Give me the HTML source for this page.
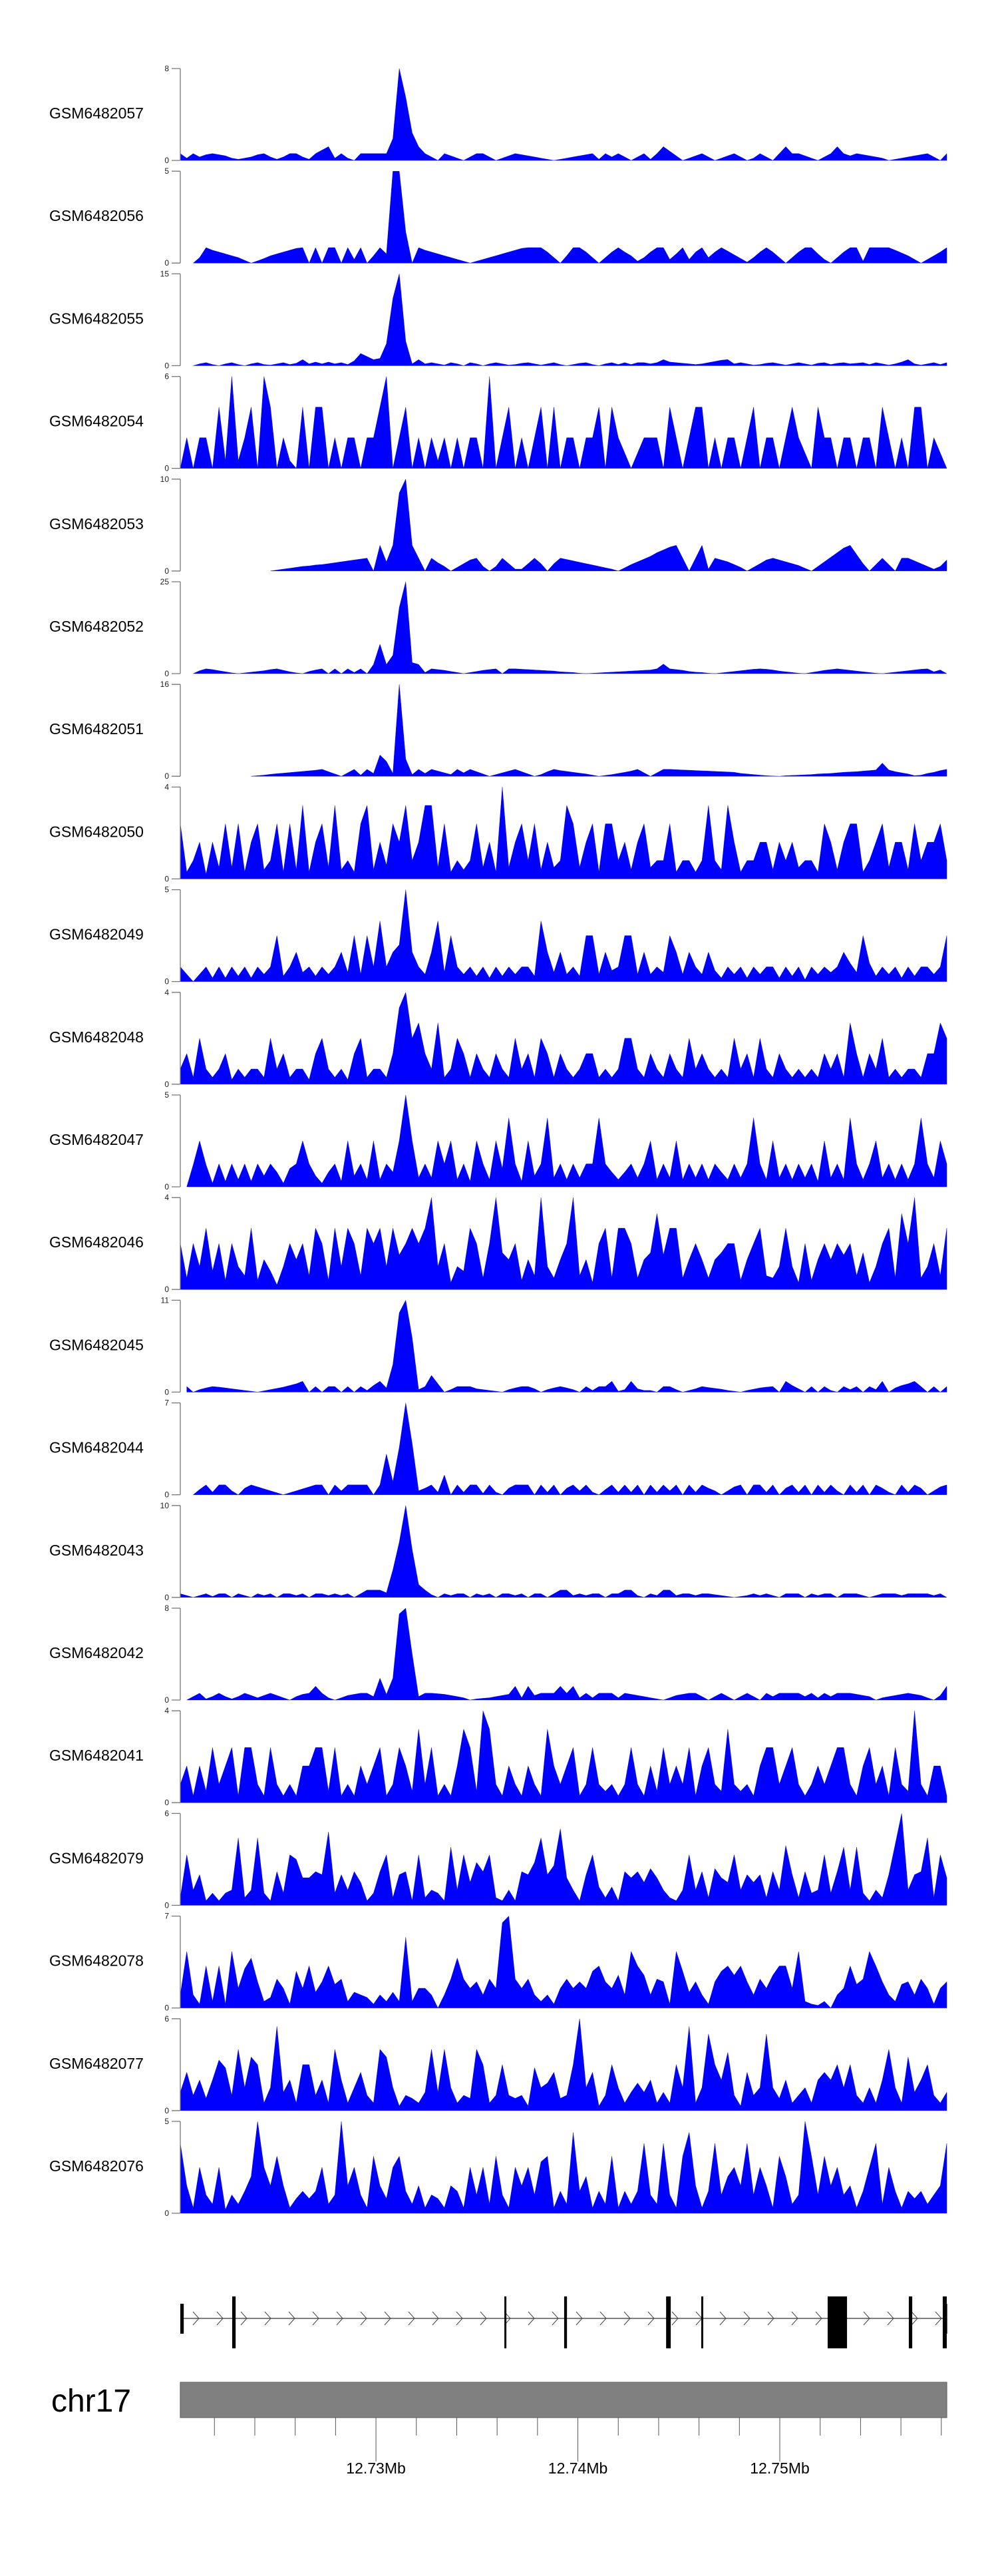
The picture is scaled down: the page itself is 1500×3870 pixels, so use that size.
<!DOCTYPE html>
<html>
<head>
<meta charset="utf-8">
<style>
  html,body{margin:0;padding:0;background:#fff;}
  svg{display:block;}
  text{font-family:"Liberation Sans",Arial,sans-serif;}
</style>
</head>
<body>
<svg id="chart" xmlns="http://www.w3.org/2000/svg" width="1500" height="3870" viewBox="0 0 1500 3870"></svg>
<script>
// ---- data ----
const sampleNames = ["GSM6482057","GSM6482056","GSM6482055","GSM6482054","GSM6482053","GSM6482052","GSM6482051","GSM6482050","GSM6482049","GSM6482048","GSM6482047","GSM6482046","GSM6482045","GSM6482044","GSM6482043","GSM6482042","GSM6482041","GSM6482079","GSM6482078","GSM6482077","GSM6482076"];
const yMaxTicks = [8,5,15,6,10,25,16,4,5,4,5,4,11,7,10,8,4,6,7,6,5];
const N = null;
const t1=[0.6,0.2,0.6,0.3,0.5,0.6,0.5,0.4,0.2,0.1, 0.2,0.3,0.5,0.6,0.3,0.1,0.3,0.6,0.6,0.3, 0.1,0.6,0.9,1.2,0.2,0.6,0.2,0,0.6,0.6, 0.6,0.6,0.6,1.9,8,5.5,2.4,1.2,0.6,0.3, 0,0.6,0.4,0.2,0,0.3,0.6,0.6,0.3,0, 0.2,0.4,0.6,0.5,0.4,0.3,0.2,0.1,0,0.1, 0.2,0.3,0.4,0.5,0.6,0.1,0.6,0.3,0.6,0.3, 0,0.3,0.6,0.1,0.6,1.2,0.8,0.4,0,0.2, 0.4,0.6,0.3,0,0.2,0.4,0.6,0.3,0,0.2, 0.6,0.3,0,0.6,1.2,0.6,0.6,0.4,0.2,0, 0.3,0.6,1.2,0.6,0.4,0.6,0.5,0.4,0.3,0.2, 0,0.1,0.2,0.3,0.4,0.5,0.6,0.3,0,0.6];
const t2=[N,N,0,0.3,0.84,0.7,0.6,0.5,0.4,0.3, 0.15,0,0.12,0.25,0.4,0.5,0.6,0.7,0.8,0.84, 0,0.84,0,0.84,0.84,0,0.84,0.2,0.84,0, 0.4,0.84,0.5,5,5,1.7,0,0.84,0.7,0.6, 0.5,0.4,0.3,0.2,0.1,0,0.1,0.2,0.3,0.4, 0.5,0.6,0.7,0.8,0.84,0.84,0.84,0.6,0.3,0, 0.4,0.84,0.84,0.6,0.3,0,0.3,0.6,0.84,0.6, 0.4,0.1,0.3,0.6,0.84,0.84,0.2,0.5,0.84,0.2, 0.6,0.84,0.3,0.6,0.84,0.65,0.45,0.25,0.05,0.3, 0.6,0.84,0.6,0.3,0,0.3,0.6,0.84,0.84,0.5, 0.2,0,0.3,0.6,0.84,0.84,0.1,0.84,0.84,0.84, 0.84,0.7,0.55,0.4,0.2,0,0.2,0.4,0.6,0.84];
const t3=[N,N,0,0.3,0.5,0.2,0,0.3,0.5,0.2, 0,0.3,0.5,0.2,0.1,0.3,0.5,0.2,0.4,1, 0.3,0.6,0.3,0.6,0.3,0.5,0.2,0.8,2,1.5, 1,1.2,3.6,11,15,4,0.3,1,0.3,0.5, 0.3,0.1,0.5,0.3,0,0.5,0.3,0,0.3,0.5, 0.3,0.1,0.2,0.4,0.5,0.3,0.1,0.3,0.5,0.2, 0,0.2,0.4,0.5,0.2,0,0.3,0.5,0.2,0.5, 0.2,0.5,0.5,0.3,0.5,1,0.6,0.5,0.4,0.3, 0.2,0.3,0.5,0.7,0.9,1,0.3,0.5,0.3,0.1, 0.2,0.4,0.5,0.3,0.1,0.3,0.5,0.3,0.1,0.4, 0.5,0.2,0.4,0.5,0.3,0.4,0.5,0.2,0.5,0.3, 0.1,0.3,0.6,1,0.3,0.1,0.3,0.5,0.2,0.5];
const t4=[0,2,0,2,2,0,4,0.5,6,0.5, 2,4,0,6,4,0,2,0.5,0,4, 0,4,4,0,2,0,2,2,0,2, 2,4,6,0,2,4,0,2,0,2, 0.5,2,0,2,0,2,2,0,6,0, 2,4,0,2,0,2,4,0,4,0, 2,2,0,2,2,4,0,4,2,1, 0,1,2,2,2,0,4,2,0,2, 4,4,0,2,0,2,2,0,2,4, 0,2,2,0,2,4,2,1,0,4, 2,2,0,2,2,0,2,2,0,4, 2,0,2,0,4,4,0,2,1,0];
const t5=[N,N,N,N,N,N,N,N,N,N, N,N,N,N,0,0.1,0.2,0.3,0.4,0.5, 0.55,0.65,0.7,0.8,0.9,1,1.1,1.2,1.3,1.4, 0,2.8,1,2.8,8.5,10,2.8,1.4,0,1.4, 0.9,0.5,0,0.4,0.8,1.2,1.4,0.5,0,0.5, 1.4,0.8,0.2,0.2,0.8,1.4,0.8,0,0.8,1.4, 1.25,1.1,0.95,0.8,0.65,0.5,0.35,0.2,0,0.35, 0.7,1,1.3,1.6,2,2.3,2.6,2.8,1.4,0, 1.4,2.8,0.2,1.4,1.2,1,0.7,0.4,0,0.4, 0.8,1.2,1.4,1.2,1,0.8,0.6,0.3,0,0.5, 1,1.5,2,2.5,2.8,1.8,0.8,0,0.7,1.4, 0.7,0,1.4,1.4,1.1,0.8,0.5,0.2,0.5,1.2];
const t6=[N,N,0,0.8,1.3,1.1,0.8,0.5,0.2,0, 0.2,0.4,0.6,0.8,1.1,1.3,0.9,0.5,0.2,0, 0.6,1,1.3,0,1.3,0,1.3,0.3,1.3,0, 2.5,8,2.5,5,18,25,3,2.5,0.3,1.3, 1.1,0.9,0.6,0.3,0,0.3,0.6,0.9,1.1,1.3, 0,1.3,1.3,1.2,1.1,1,0.9,0.8,0.7,0.5, 0.4,0.3,0.1,0,0.1,0.2,0.3,0.4,0.5,0.6, 0.7,0.8,0.9,1,1.3,2.6,1.3,1.1,0.9,0.6, 0.4,0.3,0.1,0,0.2,0.4,0.6,0.8,1,1.2, 1.3,1.2,1,0.7,0.5,0.3,0.1,0,0.3,0.6, 0.9,1.1,1.3,1.1,0.9,0.7,0.5,0.3,0.1,0, 0.2,0.4,0.6,0.8,1,1.2,1.3,0.5,1,0];
const t7=[N,N,N,N,N,N,N,N,N,N, N,0,0.1,0.2,0.35,0.45,0.55,0.65,0.75,0.85, 0.95,1.05,1.2,0.8,0.4,0,0.6,1.2,0.2,1.2, 0.5,3.7,2.6,0.5,16,3,0.3,1.2,0.5,1.2, 0.9,0.6,0.3,1.2,0.6,1.2,0.8,0.4,0,0.3, 0.6,0.9,1.2,0.8,0.4,0,0.3,0.8,1.2,1, 0.85,0.7,0.55,0.4,0.2,0,0.15,0.3,0.5,0.7, 0.9,1.2,0.6,0,0.6,1.2,1.2,1.15,1.1,1.05, 1,0.95,0.9,0.85,0.8,0.75,0.7,0.5,0.4,0.3, 0.2,0.1,0.05,0,0.1,0.15,0.2,0.25,0.3,0.4, 0.45,0.5,0.6,0.7,0.75,0.8,0.9,1,1.1,2.3, 1.1,0.8,0.6,0.4,0.1,0.2,0.5,0.7,1,1.2];
const t8=[2.4,0.3,0.8,1.6,0.2,1.6,0.5,2.4,0.5,2.4, 0.3,1.6,2.4,0.4,0.8,2.4,0.3,2.4,0.4,3.2, 0.3,1.6,2.4,0.5,3.2,0.4,0.8,0.3,2.4,3.2, 0.4,1.6,0.6,2.4,1.6,3.2,0.8,1.6,3.2,3.2, 0.5,2.4,0.3,0.8,0.4,0.8,2.4,0.5,1.6,0.3, 4,0.5,1.6,2.4,0.8,2.4,0.4,1.6,0.5,0.8, 3.2,2.4,0.5,1.6,2.4,0.3,2.4,2.4,0.8,1.6, 0.4,1.6,2.4,0.5,0.8,0.8,2.4,0.3,0.8,0.8, 0.3,0.8,3.2,0.8,0.4,3.2,1.6,0.3,0.8,0.8, 1.6,1.6,0.4,1.6,0.8,1.6,0.5,0.8,0.8,0.3, 2.4,1.6,0.4,1.6,2.4,2.4,0.3,0.8,1.6,2.4, 0.5,1.6,1.6,0.4,2.4,0.8,1.6,1.6,2.4,0.8];
const t9=[0.8,0.4,0,0.4,0.8,0.2,0.8,0.2,0.8,0.3, 0.8,0.2,0.8,0.4,0.8,2.5,0.3,0.8,1.6,0.5, 0.8,0.3,0.8,0.4,0.8,1.6,0.5,2.5,0.4,2.5, 0.8,3.3,0.8,1.6,2,5,1.6,0.8,0.4,1.6, 3.3,0.5,2.5,0.8,0.4,0.8,0.3,0.8,0.2,0.8, 0.3,0.8,0.4,0.8,0.8,0.3,3.3,1.6,0.5,1.6, 0.4,0.8,0.3,2.5,2.5,0.4,1.6,0.6,0.8,2.5, 2.5,0.4,1.6,0.4,0.8,0.5,2.5,1.6,0.4,1.6, 0.8,0.4,1.6,0.6,0.2,0.8,0.4,0.8,0.2,0.8, 0.4,0.8,0.8,0.2,0.8,0.3,0.8,0.1,0.8,0.4, 0.8,0.5,0.8,1.6,1,0.5,2.5,1,0.3,0.8, 0.4,0.8,0.2,0.8,0.3,0.8,0.8,0.4,0.8,2.5];
const t10=[0.66,1.33,0.3,2,0.66,0.3,0.66,1.33,0.2,0.66, 0.3,0.66,0.66,0.3,2,0.66,1.33,0.3,0.66,0.66, 0.2,1.33,2,0.66,0.3,0.66,0.2,1.33,2,0.3, 0.66,0.66,0.3,1.33,3.33,4,2,2.67,1.33,0.66, 2.67,0.3,0.66,2,1.33,0.3,1.33,0.66,0.3,1.33, 0.66,0.3,2,0.66,1.33,0.3,2,1.33,0.3,1.33, 0.66,0.3,0.66,1.33,1.33,0.3,0.66,0.3,0.66,2, 2,0.66,0.3,1.33,0.66,0.3,1.33,0.66,0.3,2, 0.66,1.33,0.66,0.3,0.66,0.3,2,0.66,1.33,0.3, 2,0.66,0.3,1.33,0.66,0.3,0.66,0.3,0.66,0.3, 1.33,0.66,1.33,0.3,2.67,1.33,0.3,1.33,0.66,2, 0.3,0.66,0.3,0.66,0.66,0.3,1.33,1.33,2.67,2];
const t11=[N,0,1.2,2.5,1.2,0.2,1.25,0.3,1.25,0.4, 1.25,0.3,1.25,0.6,1.25,0.8,0.2,1,1.25,2.5, 1.25,0.6,0.2,0.8,1.25,0.3,2.5,0.6,1.25,0.4, 2.5,0.4,1.25,0.8,2.5,5,2.5,0.5,1.25,0.5, 2.5,1.25,2.5,0.4,1.25,0.3,2.5,1.25,0.4,2.5, 1,3.75,1.25,0.3,2.5,0.6,1.25,3.75,0.5,1.25, 0.4,1.25,0.5,1.25,1.25,3.75,1.25,0.8,0.4,0.8, 1.25,0.5,1.25,2.5,0.4,1.25,0.5,2.5,0.4,1.25, 0.5,1.25,0.4,1.25,0.8,0.4,1.25,0.5,1.25,3.75, 1.25,0.4,2.5,0.5,1.25,0.4,1.25,0.5,1.25,0.3, 2.5,0.5,1.25,0.4,3.75,1.25,0.4,1.25,2.5,0.5, 1.25,0.4,1.25,0.4,1.25,3.75,1.25,0.5,2.5,1.25];
const t12=[2,0.5,2,1,2.67,0.8,2,0.4,2,1, 0.6,2.67,0.4,1.3,0.8,0.2,1,2,1.3,2, 0.6,2.67,2,0.4,2.67,1,2.67,2,0.6,2.67, 2,2.67,1,2.67,1.5,2,2.67,2,2.67,4, 1,2,0.3,1,0.8,2.67,2,0.5,2,4, 1.6,1.3,2,0.4,1.3,0.6,4,1,0.5,1.3, 2,4,0.6,1.3,0.3,2,2.67,0.5,2.67,2.67, 2,0.5,1.3,1.6,3.3,1.5,2.67,2.67,0.5,1.3, 2,1.3,0.5,1.3,1.6,2,2,0.4,1.3,2, 2.67,0.6,0.5,1,2.67,1,0.3,2,0.4,1.3, 2,1.3,2,1.5,2,0.6,1.6,0.3,1,2, 2.67,0.5,3.3,2,4,0.5,1,2,0.6,2.67];
const t13=[N,0.67,0,0.3,0.5,0.67,0.6,0.5,0.4,0.3, 0.2,0.1,0,0.15,0.3,0.45,0.6,0.8,1,1.3, 0,0.67,0,0.67,0.67,0,0.67,0,0.67,0.2, 0.8,1.3,0.5,3.3,9.5,11,6.5,0.3,0.67,2, 1,0,0.3,0.67,0.67,0.67,0.4,0.3,0.2,0.1, 0,0.3,0.5,0.67,0.67,0.4,0,0.3,0.5,0.67, 0.5,0.3,0,0.67,0.2,0.67,0.67,1.3,0.1,0.3, 1.3,0.4,0.2,0.2,0,0.67,0.67,0.3,0,0.2, 0.4,0.67,0.55,0.45,0.35,0.2,0.1,0,0.2,0.35, 0.5,0.6,0.67,0,1.3,0.8,0.4,0,0.67,0, 0.67,0.2,0,0.67,0.3,0.67,0,0.67,0.3,1.3, 0,0.5,0.8,1,1.3,0.67,0,0.67,0,0.67];
const t14=[N,N,0,0.4,0.75,0.2,0.75,0.75,0.3,0, 0.5,0.75,0.6,0.45,0.3,0.15,0,0.15,0.3,0.45, 0.6,0.75,0.75,0,0.75,0.3,0.75,0.75,0.75,0.75, 0,0.75,3.1,1,3.6,7,3.9,0.3,0.5,0.75, 0.2,1.5,0,0.75,0.2,0.75,0.75,0.1,0.75,0.2, 0,0.5,0.75,0.75,0.75,0,0.75,0.2,0.75,0, 0.5,0.75,0.3,0.75,0.2,0,0.4,0.75,0.2,0.75, 0.2,0.75,0,0.75,0.2,0.75,0.3,0.75,0,0.75, 0.2,0.75,0.5,0.3,0,0.3,0.6,0.75,0,0.75, 0.75,0.2,0.75,0,0.5,0.75,0.2,0.75,0,0.75, 0.2,0.75,0.3,0,0.75,0.2,0.75,0,0.75,0.5, 0.2,0,0.75,0.2,0.75,0.5,0,0.3,0.6,0.75];
const t15=[0.4,0.2,0,0.2,0.4,0.1,0.4,0.4,0,0.4, 0.2,0,0.4,0.2,0.4,0,0.4,0.4,0.2,0.4, 0,0.4,0.4,0.2,0.4,0.2,0.4,0,0.4,0.8, 0.8,0.8,0.5,3,6,10,5.2,1.4,0.8,0.3, 0,0.4,0.2,0.4,0.4,0,0.4,0.2,0.4,0, 0.4,0.4,0.2,0.4,0,0.4,0.4,0,0.4,0.8, 0.8,0.2,0.4,0.2,0.4,0.4,0,0.4,0.4,0.8, 0.8,0.2,0,0.4,0.2,0.8,0.8,0.2,0.4,0.4, 0.2,0.4,0.4,0.3,0.2,0.1,0,0.1,0.2,0.4, 0.2,0.4,0.2,0,0.4,0.4,0.4,0,0.4,0.2, 0.4,0.4,0,0.4,0.4,0.4,0.2,0,0.2,0.4, 0.4,0.4,0.2,0.4,0.4,0.4,0.4,0.2,0.4,0];
const t16=[N,0,0.3,0.6,0.1,0.3,0.6,0.3,0.1,0.3, 0.6,0.4,0.2,0.4,0.6,0.4,0.2,0,0.3,0.5, 0.6,1.2,0.6,0.2,0,0.2,0.4,0.5,0.6,0.6, 0.3,1.9,0.5,1.9,7.5,8,4,0.3,0.6,0.6, 0.55,0.5,0.4,0.3,0.2,0,0.1,0.15,0.2,0.3, 0.4,0.5,1.2,0.2,1.2,0.4,0.6,0.6,0.6,1.2, 0.6,1.2,0.2,0.6,0.2,0.6,0.6,0.6,0.2,0.6, 0.5,0.4,0.3,0.2,0.1,0,0.2,0.4,0.5,0.6, 0.6,0.3,0,0.3,0.6,0.3,0,0.3,0.6,0.3, 0,0.6,0.3,0.6,0.6,0.6,0.6,0.3,0.6,0.2, 0.6,0.3,0.6,0.6,0.6,0.5,0.4,0.3,0,0.2, 0.3,0.4,0.5,0.6,0.5,0.4,0.2,0,0.4,1.2];
const t17=[0.8,1.6,0.3,1.6,0.5,2.4,0.8,1.6,2.4,0.3, 2.4,2.4,0.8,0.3,2.4,0.8,0.3,0.8,0.3,1.6, 1.6,2.4,2.4,0.5,2.4,0.3,0.8,0.3,1.6,0.8, 1.6,2.4,0.3,0.8,2.4,1.6,0.5,3.2,0.8,2.4, 0.3,0.8,0.3,1.6,3.2,2.4,0.5,4,3.2,0.8, 0.3,1.6,0.8,0.3,1.6,0.8,0.3,3.2,1.6,0.8, 1.6,2.4,0.3,0.8,2.4,0.8,0.5,0.8,0.3,0.8, 2.4,0.8,0.3,1.6,0.5,2.4,0.8,1.6,0.8,2.4, 0.3,1.6,2.4,0.8,0.5,3.2,0.8,0.5,0.8,0.3, 1.6,2.4,2.4,0.8,1.6,2.4,0.8,0.3,0.8,1.6, 0.8,1.6,2.4,2.4,0.8,0.3,1.6,2.4,0.8,1.6, 0.3,2.4,0.8,0.5,4,0.8,0.3,1.6,1.6,0.3];
const t18=[0.5,3.3,1,2,0.3,0.8,0.3,0.8,1,4.4, 0.5,1,4.4,0.8,0.3,2.2,0.8,3.3,3,1.8, 1.8,2.2,2,4.8,0.8,2,1,2.2,1.5,0.3, 0.8,2.2,3.3,0.5,2,2.2,0.3,3.3,0.5,1, 0.8,0.3,3.8,1,3.3,1.5,2.8,2.2,3.3,0.5, 0.3,1,0.3,2.2,2,2.8,4.4,2,2.6,5, 1.8,1,0.3,2,3.3,1.2,0.5,1.2,0.3,2.2, 1.8,2.2,1.5,2.4,1.8,1,0.5,0.3,1,3.3, 1,2.2,0.5,2.4,1.8,1.5,3.3,1,2,1.5, 2,0.5,2.2,1,3.9,2,0.5,2.2,0.8,1, 3.3,0.8,2.2,3.8,1,3.8,0.8,0.3,1,0.5, 2,4,6,1,2,2.2,4.4,0.5,3.3,1.8];
const t19=[1,4.3,1,0.3,3.2,0.5,3.2,0.3,4.3,1.5, 3,3.8,2,0.5,0.8,2.2,1.5,0.3,2.8,1.5, 3.2,1.2,2,3.2,1.8,2.2,0.5,1.2,1,0.8, 0.3,1,0.5,1.2,0.5,5.4,0.5,1.5,1.5,1, 0,1,2.2,3.8,2.2,1.5,2,1,2.2,1.5, 6.5,7,2.2,1.5,2.2,1,0.5,1,0.3,1.5, 2.2,1.5,2,1.5,2.8,3.2,2,1.5,2.5,1, 4.3,3.2,2.5,1,2.2,2,0.3,4.3,2.8,1.2, 2,1,0.3,2,2.8,3.2,2.5,3.2,2,1, 2.2,1.5,2.5,3.2,3.2,1.5,4.3,0.5,0.3,0.2, 0.5,0,1,1.5,3.2,1.8,2.2,4.3,3.2,2, 1,0.5,1.8,2,1,2.2,1.5,0.3,1.5,2];
const t20=[1.2,2.5,1,2,0.8,2,3.3,2.8,1,4, 1.5,3.5,3,0.5,1.5,5.5,1.2,2,0.5,3, 3,1,2,0.5,4,2,0.5,1.5,2.5,1, 0.5,4,3.5,1.5,0.3,1,0.8,0.5,1.2,4, 1.2,4,1.5,0.5,1,0.8,4,3,0.5,1, 3,1,0.8,1,0.3,2.8,1.5,1.8,2.5,0.8, 1,3,6,1.5,2.5,0.3,1,3,1.5,0.5, 1.2,1.8,1.2,2,0.5,1.2,0.5,3,1.5,5.5, 0.5,1.5,5,3,2,3.8,1,0.3,2.5,1, 1.5,5,1.5,0.8,2,0.5,1,1.5,0.5,2, 2.5,2,3,1.5,3,1,0.5,1.5,0.5,2, 4,1.5,0.5,3.5,1.2,2,3,1,0.5,1.2];
const t21=[3.8,1.5,0.3,2.5,1,0.5,2.5,0.2,1,0.5, 1.2,2,5,2.5,1.5,3.1,1.5,0.3,0.8,1.2, 0.8,1.2,2.5,0.5,1,5,1.5,2.5,1,0.3, 3.1,1.5,0.8,2.5,3.1,1.2,0.5,1.5,0.3,1, 0.8,0.3,1.5,1.2,0.3,2.5,1,2.5,0.5,3.1, 1,0.3,2.5,1.5,2.5,1,2.8,3.1,0.3,1.2, 0.5,4.4,1.2,2,0.3,1.2,0.5,3.1,0.3,1.2, 0.5,1.2,3.8,1,0.5,3.8,1,0.3,3.1,4.4, 1.5,0.3,1.2,3.8,1,2,2.5,1.5,3.8,1, 2.5,1.5,0.3,3.1,2,0.5,1,5,3.1,1, 3.1,1.5,2.5,1,1.5,0.3,1.2,2.5,3.8,0.5, 2.5,1.2,0.3,1.2,0.8,1.2,0.5,1,1.5,3.8];
const trackValues=[t1,t2,t3,t4,t5,t6,t7,t8,t9,t10,t11,t12,t13,t14,t15,t16,t17,t18,t19,t20,t21];

// genomic window (kb) and gene model (kb)
const regionStartKb = 12720.31, regionEndKb = 12758.27;
const exonStartsKb = [12720.31,12722.88,12736.36,12739.32,12744.37,12746.11,12752.37,12756.39,12758.07];
const exonEndsKb   = [12720.48,12723.05,12736.46,12739.46,12744.60,12746.21,12753.33,12756.56,12758.27];
const exonFull     = [false,true,true,true,true,true,true,true,true];
const axisMinorKb = [12722,12724,12726,12728,12730,12732,12734,12736,12738,12740,12742,12744,12746,12748,12750,12752,12754,12756,12758];
const axisMajorKb = [12730,12740,12750];
const axisMajorLabels = ["12.73Mb","12.74Mb","12.75Mb"];

// ---- layout ----
const svg = document.getElementById('chart');
const NS = 'http://www.w3.org/2000/svg';
const X0 = 271, X1 = 1423;
const TOP0 = 103, STEP = 154.2, TH = 138;
function xKb(kb){ return X0 + (kb - regionStartKb) / (regionEndKb - regionStartKb) * (X1 - X0); }
function el(tag, attrs, parent){ const e=document.createElementNS(NS,tag); for(const k in attrs) e.setAttribute(k,attrs[k]); (parent||svg).appendChild(e); return e; }

trackValues.forEach((vals, ti) => {
  const top = TOP0 + ti*STEP, zero = top + TH, ymax = yMaxTicks[ti];
  const g = el('g', {});
  
  
  const xi = i => X0 + i*(X1-X0)/(vals.length-1);
  const yv = v => zero - v/ymax*TH;
  // coverage polygons (contiguous non-null segments)
  let seg = [];
  const flush = () => {
    if (seg.length > 1) {
      let d = 'M' + seg[0][0].toFixed(1) + ',' + zero;
      seg.forEach(p => { d += 'L' + p[0].toFixed(1) + ',' + p[1].toFixed(1); });
      d += 'L' + seg[seg.length-1][0].toFixed(1) + ',' + zero + 'Z';
      const p = el('path', {d: d, fill: '#0000ff', stroke: '#0000cc', 'stroke-width': '0.4'}, g);
      
      
    }
    seg = [];
  };
  vals.forEach((v, i) => { if (v === null) flush(); else seg.push([xi(i), yv(v)]); });
  flush();
  // y axis
  const ax = el('path', {d: `M${X0},${top}V${zero}M${X0-13},${top}H${X0}M${X0-13},${zero}H${X0}`, stroke: '#777', 'stroke-width': '1.3', fill: 'none'}, g);
  
  
  const tt = el('text', {x: X0-17, y: top+4, 'font-size': '12', 'text-anchor': 'end', fill: '#222'}, g);
  tt.textContent = ymax;
  
  
  const tz = el('text', {x: X0-17, y: zero+4, 'font-size': '12', 'text-anchor': 'end', fill: '#222'}, g);
  tz.textContent = '0';
  
  
  const lbl = el('text', {x: 145, y: top+75, 'font-size': '23', 'text-anchor': 'middle', fill: '#000'}, g);
  lbl.textContent = sampleNames[ti];
  
  
});

// ---- gene model ----
const gg = el('g', {});


const GY = 3483;
el('line', {x1: X0, y1: GY, x2: X1, y2: GY, stroke: '#333', 'stroke-width': '1.2'}, gg);
for (let ax = X0 + 28; ax < X1; ax += 36) {
  const ch = el('path', {d: `M${ax-9},${GY-10}L${ax},${GY}L${ax-9},${GY+10}`, stroke: '#444', 'stroke-width': '1', fill: 'none'}, gg);
  
  
}
exonStartsKb.forEach((s, i) => {
  const xa = xKb(s), xb = xKb(exonEndsKb[i]);
  const y1 = exonFull[i] ? 3450 : 3461, y2 = exonFull[i] ? 3528 : 3506;
  const r = el('rect', {x: xa, y: y1, width: Math.max(3, xb-xa), height: y2-y1, fill: '#000'}, gg);
  
  
});
// small UTR tail at far right
const tail = el('rect', {x: xKb(12758.16), y: 3461, width: 4, height: 45, fill: '#000'}, gg);



// ---- chromosome ideogram and axis ----
const cg = el('g', {});


const chrBar = el('rect', {x: X0, y: 3579, width: X1-X0, height: 53, fill: '#808080', stroke: '#666', 'stroke-width': '1.2'}, cg);


const chrLabel = el('text', {x: 137, y: 3623, 'font-size': '48', 'text-anchor': 'middle', fill: '#000'}, cg);
chrLabel.textContent = 'chr17';


axisMinorKb.forEach(kb => {
  const major = axisMajorKb.indexOf(kb) >= 0;
  const t = el('line', {x1: xKb(kb), x2: xKb(kb), y1: 3632, y2: major ? 3698 : 3659, stroke: '#555', 'stroke-width': '1'}, cg);
  
  
});
axisMajorKb.forEach((kb, i) => {
  const t = el('text', {x: xKb(kb), y: 3716, 'font-size': '23', 'text-anchor': 'middle', fill: '#000'}, cg);
  t.textContent = axisMajorLabels[i];
  
  
});
</script>
</body>
</html>
